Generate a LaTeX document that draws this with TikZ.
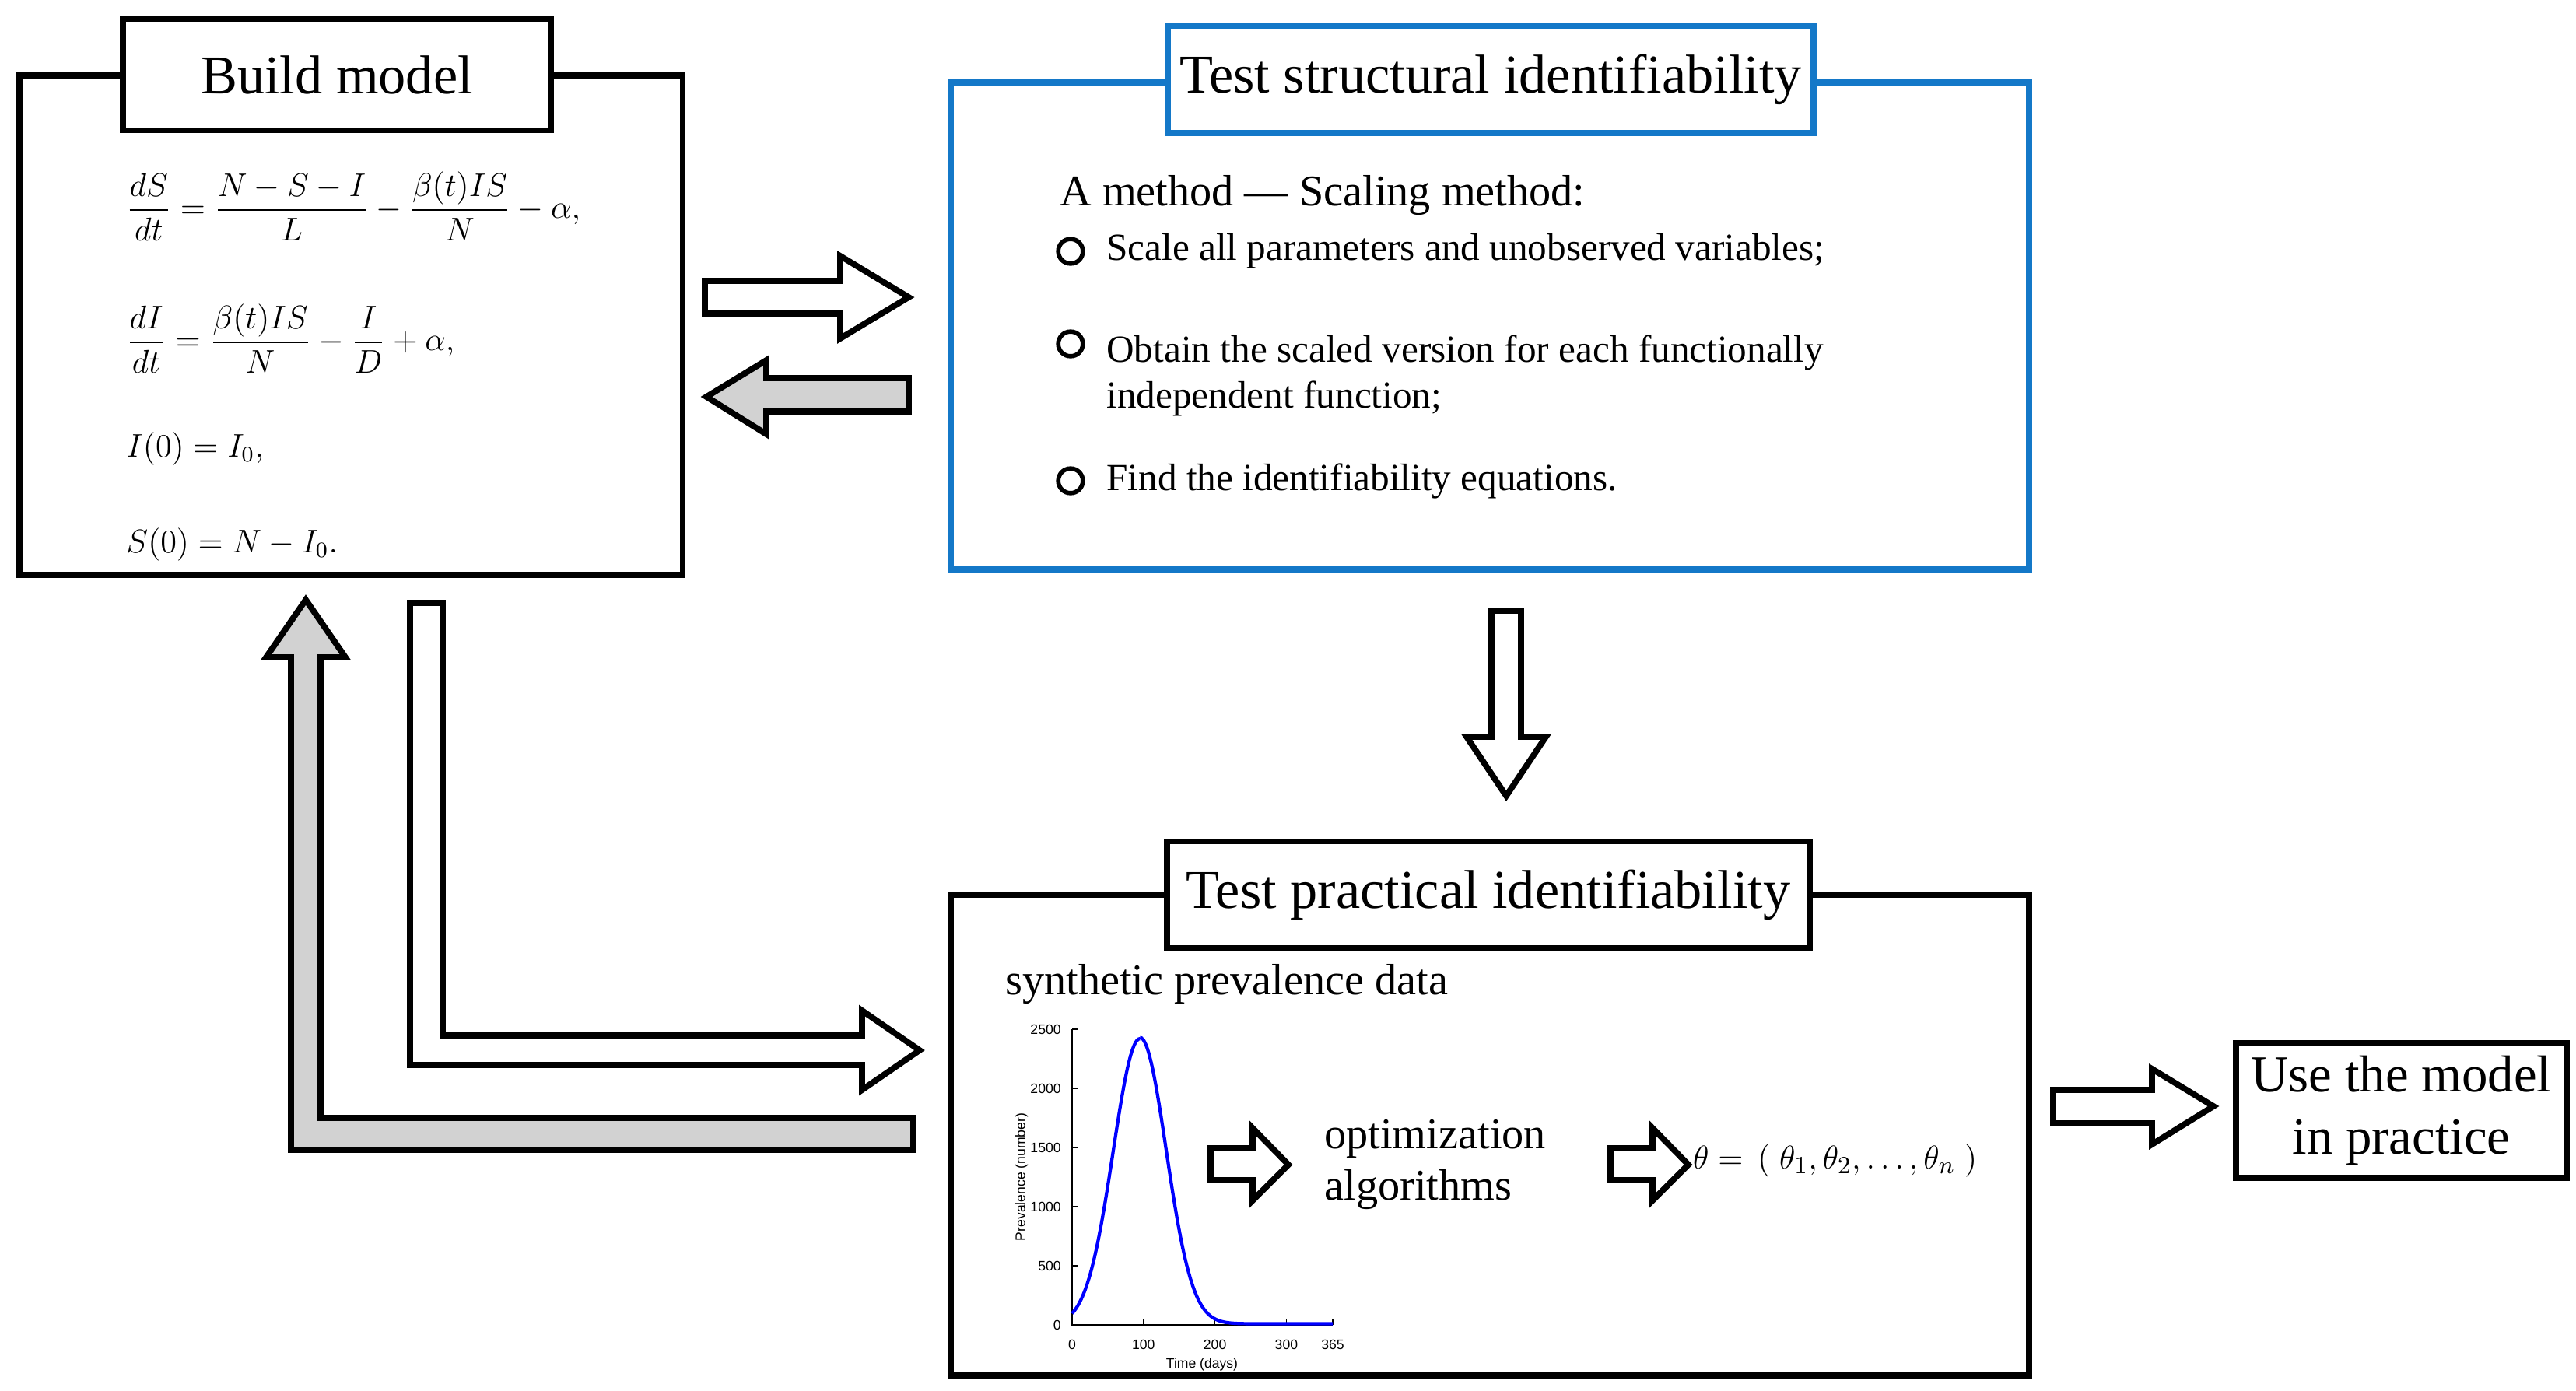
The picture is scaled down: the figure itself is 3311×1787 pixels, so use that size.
\documentclass[tikz,border=0pt]{standalone}
\usepackage{amsmath}
\usepackage{fontspec}
\setmainfont{Liberation Serif}
\newfontfamily\plotfont{Liberation Sans}
\usetikzlibrary{positioning}
\definecolor{boxblue}{RGB}{20,120,200}
\definecolor{arrowgray}{RGB}{210,210,210}
\tikzset{
    frame/.style={draw,line width=2.2pt,inner sep=0pt},
    titlebox/.style={draw,fill=white,line width=2.2pt,inner sep=0pt,font=\fontsize{20}{24}\selectfont},
    blockarrow/.style={draw,line width=2.2pt,line join=miter},
    bullet/.style={draw,circle,line width=1.6pt,inner sep=0pt,minimum size=9pt},
    btext/.style={anchor=west,font=\fontsize{14}{17}\selectfont,align=left},
    eq/.style={anchor=west,font=\fontsize{12}{14}\selectfont},
    tick/.style={font=\plotfont\fontsize{5}{6}\selectfont}
}
\begin{document}
\begin{tikzpicture}[x=0.01cm,y=-0.01cm]
    \useasboundingbox (0,0) rectangle (3311,1787);
    % build model
    \node[frame,minimum width=8.52cm,minimum height=6.42cm,anchor=north west] (build) at (21,93) {};
    \node[titlebox,minimum width=5.50cm,minimum height=1.43cm] (buildT) at (433,96) {Build model};
    \node[eq] (eq1) at (150,265) {$\dfrac{dS}{dt}=\dfrac{N-S-I}{L}-\dfrac{\beta(t)IS}{N}-\alpha,$};
    \node[eq] (eq2) at (150,435) {$\dfrac{dI}{dt}=\dfrac{\beta(t)IS}{N}-\dfrac{I}{D}+\alpha,$};
    \node[eq] (eq3) at (150,577) {$I(0)=I_0,$};
    \node[eq] (eq4) at (150,700) {$S(0)=N-I_0.$};
    % structural identifiability
    \node[frame,draw=boxblue,minimum width=13.85cm,minimum height=6.26cm,anchor=north west] (struct) at (1218,102) {};
    \node[titlebox,draw=boxblue,minimum width=8.30cm,minimum height=1.38cm] (structT) at (1916,102) {Test structural identifiability};
    \node[btext,font=\fontsize{16}{19}\selectfont] (method) at (1350,251) {A method --- Scaling method:};
    \foreach \y in {323,442,618} {
        \node[bullet] at (1376,\y) {};
    }
    \node[btext] (b1) at (1410,323) {Scale all parameters and unobserved variables;};
    \node[btext,anchor=north west] (b2) at (1410,418) {Obtain the scaled version for each functionally\\independent function;};
    \node[btext] (b3) at (1410,618) {Find the identifiability equations.};
    % practical identifiability
    \node[frame,minimum width=13.85cm,minimum height=6.18cm,anchor=north west] (pract) at (1218,1146) {};
    \node[titlebox,minimum width=8.25cm,minimum height=1.37cm] (practT) at (1913,1150) {Test practical identifiability};
    \node[btext,font=\fontsize{16}{19}\selectfont] (synth) at (1280,1265) {synthetic prevalence data};
    % prevalence plot
    \draw[line width=0.5pt] (1378,1323) -- (1378,1703) -- (1713,1703);
    \foreach \v in {0,500,1000,1500,2000,2500} {
        \draw[line width=0.4pt] (1378,{1703-\v*0.152}) -- ++(8,0);
        \node[tick,anchor=east] at (1376,{1703-\v*0.152}) {\v};
    }
    \foreach \t in {0,100,200,300,365} {
        \draw[line width=0.4pt] ({1378+\t*0.918},1703) -- ++(0,-8);
        \node[tick,anchor=north] at ({1378+\t*0.918},1710) {\t};
    }
    \node[tick,anchor=north] at (1545,1733) {Time (days)};
    \node[tick,rotate=90] at (1313,1513) {Prevalence (number)};
    \draw[blue,line width=1.2pt,domain=0:95,samples=60,smooth] plot ({1378+\x*0.918},{1703-0.152*2420*exp(-((\x-95)/53)^2)});
    \draw[blue,line width=1.2pt,domain=95:365,samples=120,smooth] plot ({1378+\x*0.918},{1703-0.152*(2420*exp(-((\x-95)/52)^2)+10)});
    \draw[blockarrow] (1556,1476) -- (1610,1476) -- (1610,1450) -- (1656,1497) -- (1610,1543) -- (1610,1517) -- (1556,1517) -- cycle;
    \node[btext,font=\fontsize{16}{19}\selectfont,align=left] (optim) at (1690,1497) {optimization\\algorithms};
    \draw[blockarrow] (2070,1476) -- (2124,1476) -- (2124,1450) -- (2170,1497) -- (2124,1543) -- (2124,1517) -- (2070,1517) -- cycle;
    \node[btext,font=\fontsize{13}{16}\selectfont,inner sep=1pt] (theta) at (2172,1492) {$\theta=\,(\;\theta_1,\theta_2,\ldots,\theta_n\;)$};
    % use the model
    \node[frame,minimum width=4.25cm,minimum height=1.73cm,anchor=north west,align=center,font=\fontsize{19}{23}\selectfont] (use) at (2870,1337) {Use the model\\in practice};
    % block arrows between boxes
    \draw[blockarrow] (906,361) -- (1080,361) -- (1080,329) -- (1168,382) -- (1080,435) -- (1080,403) -- (906,403) -- cycle;
    \draw[blockarrow,fill=arrowgray] (1168,486) -- (985,486) -- (985,463) -- (908,510) -- (985,558) -- (985,529) -- (1168,529) -- cycle;
    \draw[blockarrow] (1917,785) -- (1955,785) -- (1955,947) -- (1987,947) -- (1936,1023) -- (1885,947) -- (1917,947) -- cycle;
    \draw[blockarrow] (527,775) -- (569,775) -- (569,1331) -- (1108,1331) -- (1108,1299) -- (1182,1350) -- (1108,1401) -- (1108,1369) -- (527,1369) -- cycle;
    \draw[blockarrow,fill=arrowgray] (374,845) -- (342,845) -- (393,771) -- (444,845) -- (412,845) -- (412,1437) -- (1174,1437) -- (1174,1478) -- (374,1478) -- cycle;
    \draw[blockarrow] (2639,1401) -- (2766,1401) -- (2766,1374) -- (2845,1422) -- (2766,1471) -- (2766,1444) -- (2639,1444) -- cycle;
\end{tikzpicture}
\end{document}
